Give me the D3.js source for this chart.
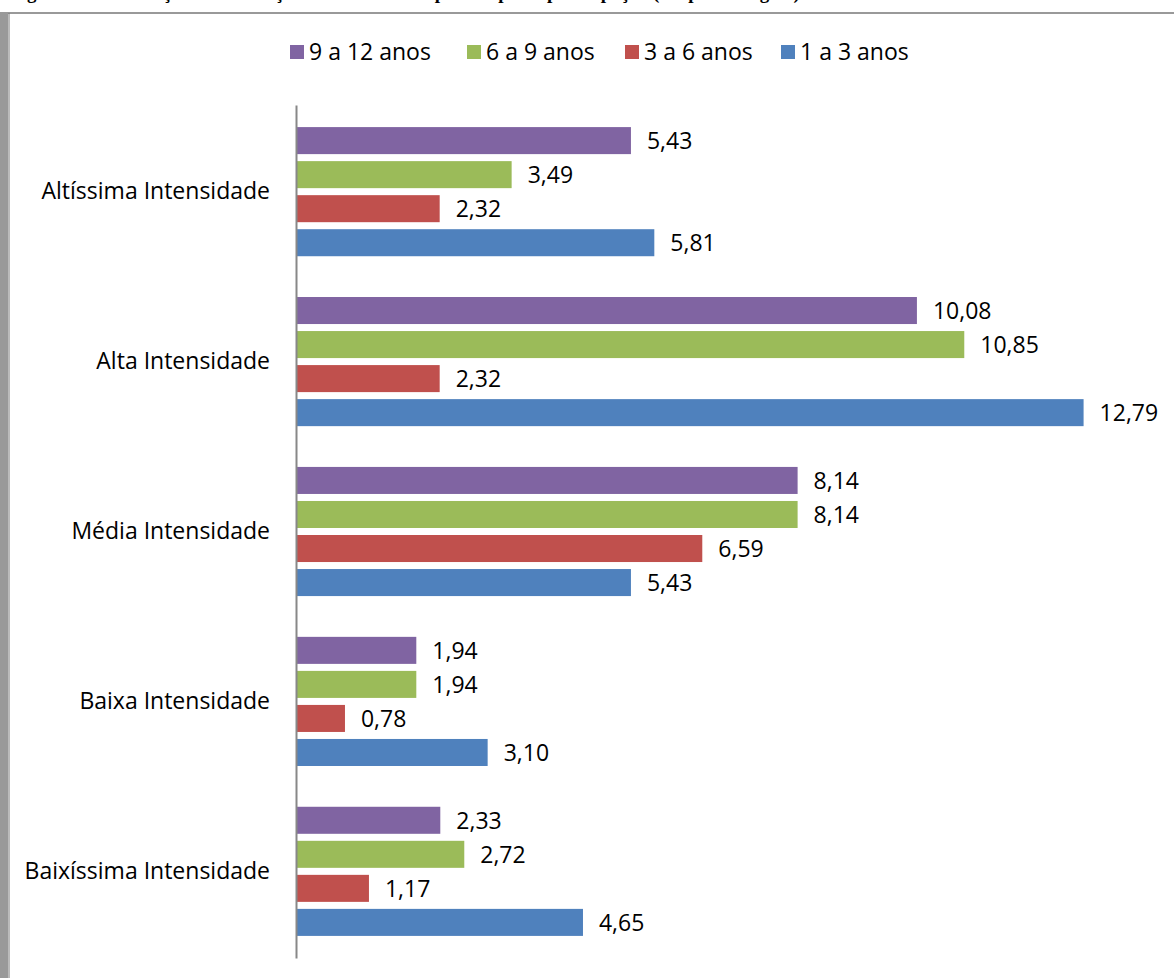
<!DOCTYPE html>
<html>
<head>
<meta charset="utf-8">
<script src="https://cdn.jsdelivr.net/npm/d3@7"></script>
<style>
  body { margin: 0; background: #fff; }
  svg text { font-family: "Open Sans", "Noto Sans", sans-serif; }
</style>
</head>
<body>
<div class="canvas"></div>
<script>
// data
const categories = ['Altíssima Intensidade', 'Alta Intensidade', 'Média Intensidade', 'Baixa Intensidade', 'Baixíssima Intensidade'];
const series = ['9 a 12 anos', '6 a 9 anos', '3 a 6 anos', '1 a 3 anos'];
const v9a12 = [5.43, 10.08, 8.14, 1.94, 2.33];
const v6a9 = [3.49, 10.85, 8.14, 1.94, 2.72];
const v3a6 = [2.32, 2.32, 6.59, 0.78, 1.17];
const v1a3 = [5.81, 12.79, 5.43, 3.10, 4.65];
const colors = ['#8064A2', '#9BBB59', '#C0504D', '#4F81BD'];

const values = [v9a12, v6a9, v3a6, v1a3];

const width = 1174, height = 978;
const svg = d3.select('.canvas')
  .append('svg')
    .attr('width', width)
    .attr('height', height);

// caption (cut off at the top, only descenders show)
svg.append('text')
  .attr('x', 10)
  .attr('y', -1)
  .style('font-family', '"Liberation Serif", serif')
  .style('font-weight', 'bold')
  .style('font-size', '19px')
  .text('Figura 4: Distribuição das alterações de intensidade por tempo de participação (em porcentagem)');

// frame
svg.append('rect').attr('x', 0).attr('y', 12).attr('width', 8).attr('height', height - 12).attr('fill', '#999');
svg.append('line').attr('x1', 8).attr('x2', width).attr('y1', 13).attr('y2', 13)
  .attr('stroke', '#999').attr('stroke-width', 2);
svg.append('line').attr('x1', 9).attr('x2', 9).attr('y1', 13).attr('y2', height)
  .attr('stroke', '#777').attr('stroke-width', 1);

// scales
const x = d3.scaleLinear().domain([0, 14]).range([297, 297 + 14 * 61.5]);
const y0 = d3.scaleBand().domain(categories).range([105, 958])
  .paddingInner(0.24).paddingOuter(0.13);
const y1 = d3.scaleBand().domain(series).range([0, y0.bandwidth()])
  .paddingInner(0.206);

// bars
const groups = svg.selectAll('g.cat')
  .data(categories)
  .enter().append('g')
    .attr('class', 'cat')
    .attr('transform', d => `translate(0, ${y0(d)})`);

groups.each(function(cat, ci) {
  const g = d3.select(this);
  const rows = series.map((s, si) => ({ s, si, v: values[si][ci] }));
  g.selectAll('rect')
    .data(rows)
    .enter().append('rect')
      .attr('x', x(0))
      .attr('y', d => y1(d.s))
      .attr('width', d => x(d.v) - x(0))
      .attr('height', y1.bandwidth())
      .attr('fill', d => colors[d.si]);
  g.selectAll('text.val')
    .data(rows)
    .enter().append('text')
      .attr('class', 'val')
      .attr('x', d => x(d.v) + 16)
      .attr('y', d => y1(d.s) + y1.bandwidth() / 2)
      .attr('dy', '0.36em')
      .style('font-size', '23px')
      .attr('fill', '#000')
      .text(d => d3.format('.2f')(d.v).replace('.', ','));
});

// axis
const yAxis = d3.axisLeft(y0).tickSize(0).tickPadding(26);
const yAxisGroup = svg.append('g')
  .attr('transform', `translate(${x(0) - 1}, 0)`)
  .call(yAxis);
yAxisGroup.select('.domain').attr('stroke', '#888').attr('stroke-width', 2);
yAxisGroup.selectAll('text')
  .style('font-size', '23px')
  .style('font-family', '"Open Sans", sans-serif')
  .attr('fill', '#000');

// legend
const legendX = [290, 467, 625, 781];
const legend = svg.selectAll('g.legend')
  .data(series)
  .enter().append('g')
    .attr('class', 'legend')
    .attr('transform', (d, i) => `translate(${legendX[i]}, 52)`);
legend.append('rect')
  .attr('x', 0).attr('y', -7).attr('width', 14).attr('height', 14)
  .attr('fill', (d, i) => colors[i]);
legend.append('text')
  .attr('x', 19).attr('dy', '0.36em')
  .style('font-size', '23px')
  .text(d => d);
</script>
</body>
</html>
